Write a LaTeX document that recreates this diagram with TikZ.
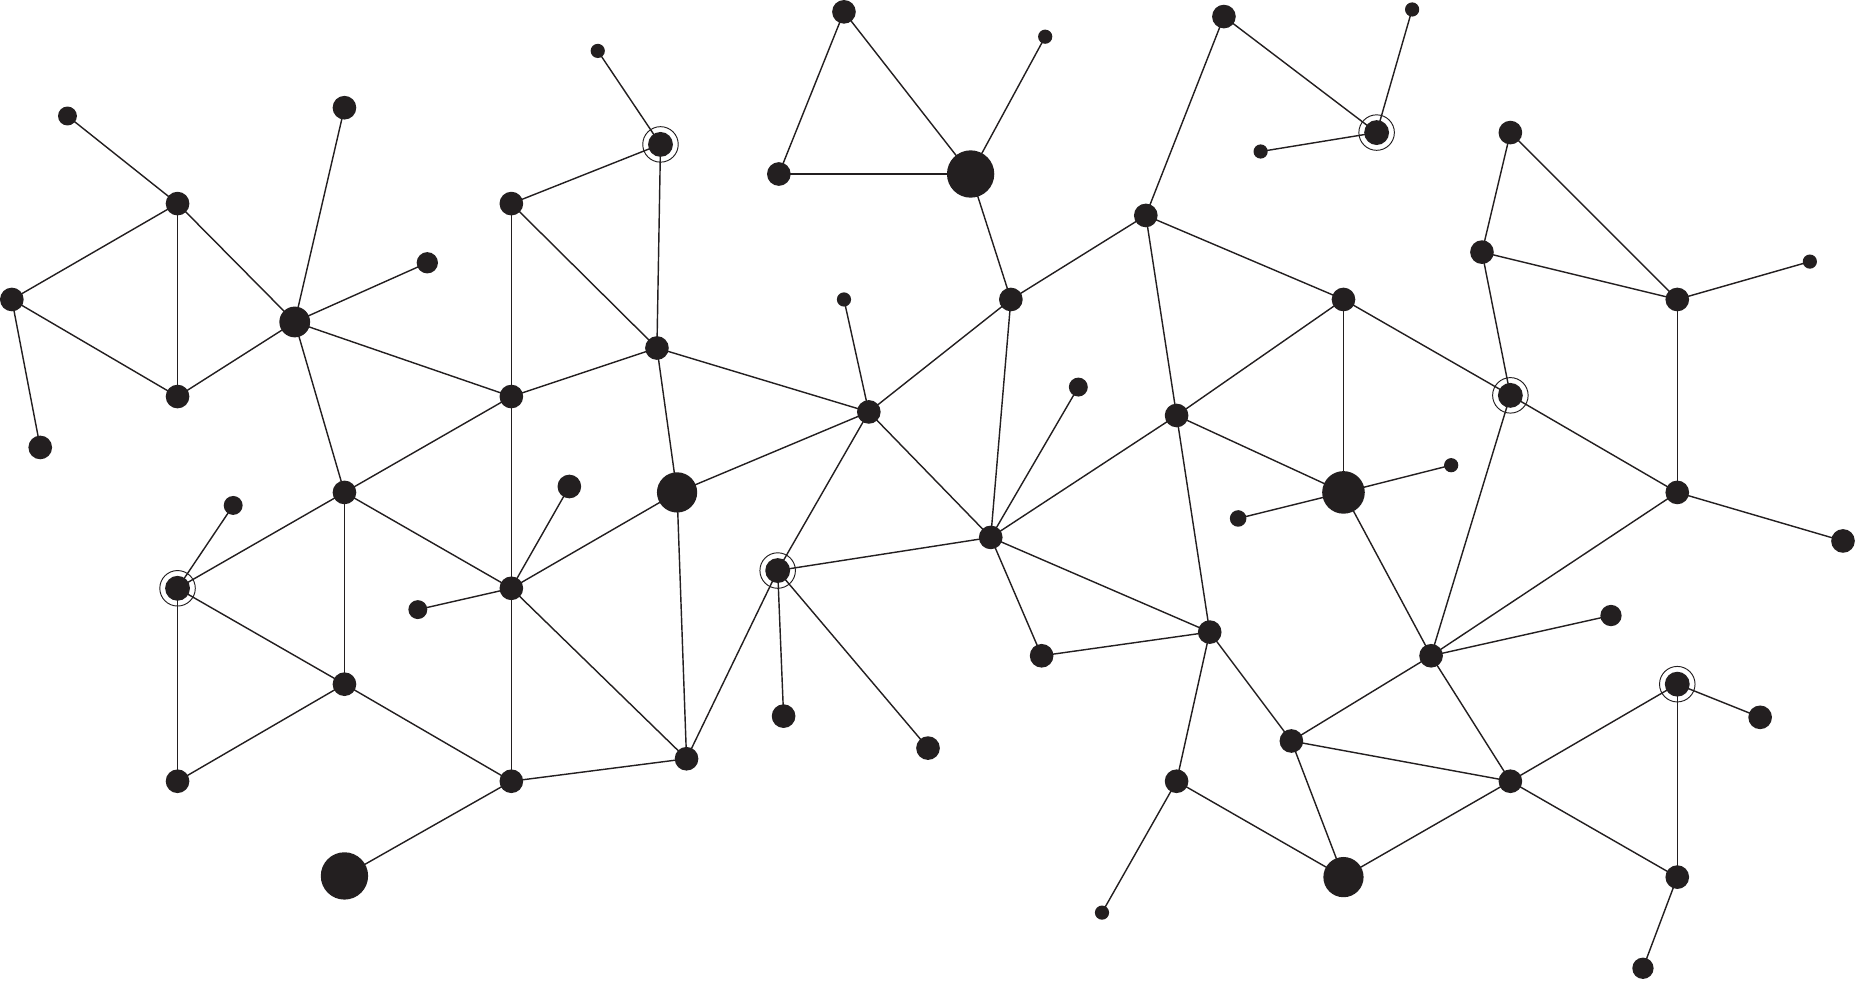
\documentclass[tikz,border=0pt]{standalone}
\usetikzlibrary{backgrounds}
\definecolor{ink}{HTML}{231F20}
\begin{document}
\begin{tikzpicture}[x=1pt,y=-1pt,
  dot/.style={circle,fill=ink,inner sep=0pt,minimum size=#1},
  dot/.default=20pt,
  ringdot/.style={circle,draw=ink,line width=0.8pt,inner sep=0pt,minimum size=30pt,
    path picture={\fill[ink] (path picture bounding box.center) circle (10.5pt);}},
  link/.style={draw=ink,line width=1.2pt}]
\useasboundingbox (0,0) rectangle (1568,828);
% nodes
\node[dot=16pt] (n1) at (57,98) {};
\node[dot] (n2) at (150,172) {};
\node[dot] (n3) at (10,253) {};
\node[dot] (n4) at (150,335) {};
\node[dot] (n5) at (34,378) {};
\node[dot=26pt] (n6) at (249,272) {};
\node[dot] (n7) at (291,91) {};
\node[dot=18pt] (n8) at (361,222) {};
\node[dot] (n9) at (432,172) {};
\node[dot=12pt] (n10) at (505,43) {};
\node[ringdot] (n11) at (558,122) {};
\node[dot] (n12) at (555,294) {};
\node[dot] (n13) at (432,335) {};
\node[dot] (n14) at (291,416) {};
\node[dot=16pt] (n15) at (197,427) {};
\node[ringdot] (n16) at (150,497) {};
\node[dot] (n17) at (291,578) {};
\node[dot] (n18) at (150,660) {};
\node[dot] (n19) at (432,497) {};
\node[dot] (n20) at (481,411) {};
\node[dot=16pt] (n21) at (353,515) {};
\node[dot=34pt] (n22) at (572,416) {};
\node[dot] (n23) at (432,660) {};
\node[dot=40pt] (n24) at (291,740) {};
\node[dot] (n25) at (580,641) {};
\node[ringdot] (n26) at (657,482) {};
\node[dot] (n27) at (662,605) {};
\node[dot] (n28) at (784,632) {};
\node[dot] (n29) at (734,348) {};
\node[dot=12pt] (n30) at (713,253) {};
\node[dot] (n31) at (713,10) {};
\node[dot] (n32) at (658,147) {};
\node[dot=40pt] (n33) at (820,147) {};
\node[dot=12pt] (n34) at (883,31) {};
\node[dot] (n35) at (854,253) {};
\node[dot] (n36) at (837,454) {};
\node[dot=16pt] (n37) at (911,327) {};
\node[dot] (n38) at (880,554) {};
\node[dot] (n39) at (968,182) {};
\node[dot] (n40) at (1034,14) {};
\node[ringdot] (n41) at (1163,112) {};
\node[dot=12pt] (n42) at (1193,8) {};
\node[dot=12pt] (n43) at (1065,128) {};
\node[dot] (n44) at (994,351) {};
\node[dot] (n45) at (1135,253) {};
\node[dot=36pt] (n46) at (1135,416) {};
\node[dot=14pt] (n47) at (1046,438) {};
\node[dot=12pt] (n48) at (1226,393) {};
\node[dot] (n49) at (1022,534) {};
\node[dot] (n50) at (994,660) {};
\node[dot=12pt] (n51) at (931,771) {};
\node[dot] (n52) at (1091,626) {};
\node[dot=34pt] (n53) at (1135,741) {};
\node[dot] (n54) at (1209,554) {};
\node[dot=18pt] (n55) at (1361,520) {};
\node[dot] (n56) at (1276,660) {};
\node[ringdot] (n57) at (1276,334) {};
\node[dot] (n58) at (1276,112) {};
\node[dot] (n59) at (1252,213) {};
\node[dot] (n60) at (1417,253) {};
\node[dot=12pt] (n61) at (1529,221) {};
\node[dot] (n62) at (1417,416) {};
\node[dot] (n63) at (1557,457) {};
\node[ringdot] (n64) at (1417,578) {};
\node[dot] (n65) at (1487,606) {};
\node[dot] (n66) at (1417,741) {};
\node[dot=18pt] (n67) at (1388,818) {};
% edges
\begin{scope}[on background layer]
\foreach \a/\b in {n1/n2,n2/n3,n2/n4,n2/n6,n3/n4,n3/n5,n4/n6,n6/n7,n6/n8,n6/n13,n6/n14,
  n9/n11,n9/n13,n9/n12,n10/n11,n11/n12,n12/n13,n12/n22,n12/n29,n13/n14,n13/n19,
  n14/n16,n14/n17,n14/n19,n15/n16,n16/n17,n16/n18,n17/n18,n17/n23,
  n19/n20,n19/n21,n19/n22,n19/n23,n19/n25,n23/n24,n23/n25,n22/n25,n22/n29,
  n25/n26,n26/n27,n26/n28,n26/n29,n26/n36,n29/n30,n29/n35,n29/n36,
  n31/n32,n31/n33,n32/n33,n33/n34,n33/n35,n35/n39,n35/n36,n36/n37,n36/n38,n36/n44,n36/n49,n38/n49,
  n39/n40,n39/n45,n39/n44,n40/n41,n41/n42,n41/n43,n44/n45,n44/n46,n44/n49,n45/n46,n45/n57,
  n46/n47,n46/n48,n46/n54,n49/n50,n49/n52,n50/n51,n50/n53,n52/n53,n52/n54,n52/n56,n53/n56,
  n54/n55,n54/n56,n54/n57,n54/n62,n56/n64,n56/n66,n57/n59,n57/n62,n58/n59,n58/n60,n59/n60,
  n60/n61,n60/n62,n62/n63,n64/n65,n64/n66,n66/n67}
  \draw[link] (\a.center) -- (\b.center);
\end{scope}
\end{tikzpicture}
\end{document}
